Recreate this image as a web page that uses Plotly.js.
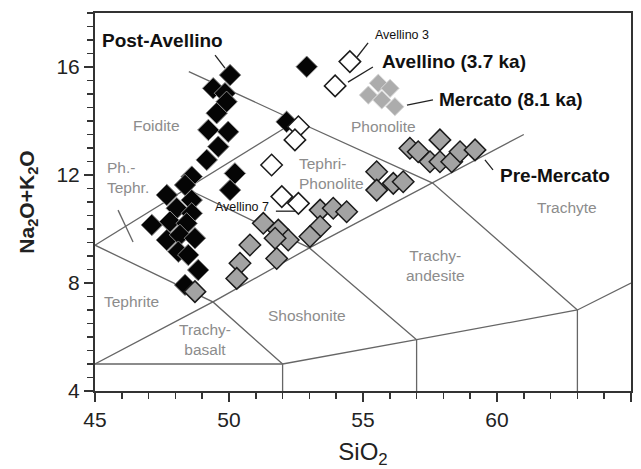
<!DOCTYPE html>
<html>
<head>
<meta charset="utf-8">
<script src="https://cdn.plot.ly/plotly-3.0.1.min.js"></script>
<style>html,body{margin:0;padding:0;background:#fff;}#chart{width:641px;height:469px;}</style>
</head>
<body>
<div id="chart"></div>
<script>
// ---- Data ----
// Post-Avellino (black diamonds)
const postAvellinoSiO2 = [50.04,49.41,49.85,49.91,49.54,49.23,49.97,49.60,49.17,48.61,50.22,50.04,48.36,47.68,48.61,48.05,48.61,47.12,47.80,48.42,47.68,48.17,48.73,48.11,48.48,48.85,48.36,52.90,52.15];
const postAvellinoAlk  = [15.70,15.21,15.03,14.71,14.29,13.67,13.60,13.05,12.56,11.94,12.06,11.44,11.63,11.26,11.07,10.77,10.58,10.15,10.27,10.21,9.59,9.78,9.66,9.16,9.04,8.48,7.93,16.01,13.97];
// Avellino 3.7 ka (white diamonds)
const avellinoSiO2 = [54.51,53.96,52.59,52.46,51.59,51.97,52.59];
const avellinoAlk  = [16.20,15.30,13.79,13.30,12.37,11.20,10.95];
// Mercato 8.1 ka (light grey diamonds)
const mercatoSiO2 = [55.57,56.01,55.20,55.70,56.19];
const mercatoAlk  = [15.40,15.21,14.96,14.78,14.53];
// Pre-Mercato (grey diamonds)
const preMercatoSiO2 = [56.75,57.06,57.87,57.50,57.87,58.31,58.62,59.18,55.51,55.51,56.13,56.50,53.40,53.89,54.39,53.40,53.02,51.28,51.84,52.21,51.72,50.78,51.78,50.41,50.29,48.73];
const preMercatoAlk  = [12.99,12.86,13.30,12.49,12.49,12.49,12.86,12.93,12.12,11.44,11.69,11.75,10.70,10.77,10.64,10.09,9.72,10.21,9.96,9.59,9.66,9.41,8.91,8.73,8.17,7.68];

// TAS field boundaries (polylines: [SiO2 list, Na2O+K2O list])
const tasLines = [
  [[48.5,52.5,57.6,63],[15.83,14,11.7,7]],
  [[45,48.4,52.5],[9.4,11.5,14]],
  [[45,49.4,53,57.6,61],[9.4,7.3,9.3,11.7,13.5]],
  [[48.4,53,57],[11.5,9.3,5.9]],
  [[45,49.4,52],[5,7.3,5]],
  [[45,52,57,63,65],[5,5,5.9,7,8]],
  [[52,52],[4,5]],
  [[57,57],[4,5.9]],
  [[63,63],[4,7]],
  [[45.86,46.42],[10.7,9.52]]
];

// Field names
const fieldNames = ["Foidite","Phonolite","Ph.-<br>Tephr.","Tephri-<br>Phonolite","Trachyte","Trachy-<br>andesite","Tephrite","Shoshonite","Trachy-<br>basalt"];
const fieldX = [47.31,55.75,45.37,52.54,62.61,57.69,46.38,52.91,49.1];
const fieldY = [13.85,13.78,11.89,12.04,10.78,8.63,7.30,6.81,5.89];
const fieldAnchor = ["center","center","left","left","center","center","center","center","center"];

// Group labels with leader lines
const groupLabels = ["Post-Avellino","Avellino 3","Avellino (3.7 ka)","Mercato (8.1 ka)","Pre-Mercato","Avellino 7"];
const groupLabelX = [45.19,55.37,55.63,57.76,60.04,49.40];
const groupLabelY = [17.0,17.19,16.19,14.78,12.0,10.80];
const groupLabelBold = [true,false,true,true,true,false];
const leaderX = [[49.48,49.85],[55.19,54.78],[55.37,54.44],[57.61,56.64],[59.55,59.85],[51.75,52.5]];
const leaderY = [[16.44,15.96],[16.89,16.37],[16.0,15.44],[14.78,14.59],[12.56,12.19],[10.66,10.66]];

// ---- Build traces ----
const FONT = "Arial, 'Liberation Sans', Helvetica, sans-serif";
const traces = [];
tasLines.forEach(l => traces.push({x:l[0], y:l[1], mode:'lines', type:'scatter', line:{color:'#666', width:1.3}, hoverinfo:'skip', showlegend:false}));
leaderX.forEach((lx,i) => traces.push({x:lx, y:leaderY[i], mode:'lines', type:'scatter', line:{color:'#222', width:1.3}, hoverinfo:'skip', showlegend:false}));

traces.push({x:postAvellinoSiO2, y:postAvellinoAlk, mode:'markers', type:'scatter', name:'Post-Avellino',
  marker:{symbol:'diamond', size:16.5, color:'#050505', line:{color:'#8a8a8a', width:1}}, showlegend:false});
traces.push({x:avellinoSiO2, y:avellinoAlk, mode:'markers', type:'scatter', name:'Avellino (3.7 ka)',
  marker:{symbol:'diamond', size:16.5, color:'#ffffff', line:{color:'#1a1a1a', width:1.5}}, showlegend:false});
traces.push({x:mercatoSiO2, y:mercatoAlk, mode:'markers', type:'scatter', name:'Mercato (8.1 ka)',
  marker:{symbol:'diamond', size:14, color:'#acacac', line:{color:'#d8d8d8', width:1}}, showlegend:false});
traces.push({x:preMercatoSiO2, y:preMercatoAlk, mode:'markers', type:'scatter', name:'Pre-Mercato',
  marker:{symbol:'diamond', size:16.5, color:'#a3a3a3', line:{color:'#1a1a1a', width:1.5}}, showlegend:false});

const annotations = [];
fieldNames.forEach((t,i) => annotations.push({x:fieldX[i], y:fieldY[i], xref:'x', yref:'y', text:t, showarrow:false,
  xanchor:fieldAnchor[i], align:fieldAnchor[i], font:{family:FONT, size:15.5, color:'#8c8c8c'}}));
groupLabels.forEach((t,i) => annotations.push({x:groupLabelX[i], y:groupLabelY[i], xref:'x', yref:'y',
  text: groupLabelBold[i] ? '<b>'+t+'</b>' : t, showarrow:false, xanchor:'left',
  font:{family:FONT, size: groupLabelBold[i] ? 19 : 12.5, color:'#111'}}));

const layout = {
  width:641, height:469,
  margin:{l:95, r:10, t:13, b:78},
  paper_bgcolor:'#fff', plot_bgcolor:'#fff',
  showlegend:false,
  font:{family:FONT, color:'#222'},
  xaxis:{range:[45,65], tickvals:[45,50,55,60,65], ticks:'outside', ticklen:9, tickwidth:1.5, tickcolor:'#333',
    minor:{dtick:1, ticks:'outside', ticklen:6, tickwidth:1.5, tickcolor:'#333'},
    showgrid:false, zeroline:false, showline:true, linecolor:'#333', linewidth:2, mirror:true,
    tickfont:{family:FONT, size:21, color:'#222'},
    title:{text:'SiO<sub>2</sub>', font:{family:FONT, size:24, color:'#222'}, standoff:22}},
  yaxis:{range:[4,18], tickvals:[4,8,12,16], ticks:'outside', ticklen:9, tickwidth:1.5, tickcolor:'#333',
    minor:{dtick:0.5, ticks:'outside', ticklen:6, tickwidth:1.5, tickcolor:'#333'},
    showgrid:false, zeroline:false, showline:true, linecolor:'#333', linewidth:2, mirror:true,
    tickfont:{family:FONT, size:21, color:'#222'},
    title:{text:'<b>Na<sub>2</sub>O+K<sub>2</sub>O</b>', font:{family:FONT, size:21, color:'#222'}, standoff:16}},
  annotations: annotations
};
Plotly.newPlot('chart', traces, layout, {staticPlot:true, displayModeBar:false});
</script>
</body>
</html>
